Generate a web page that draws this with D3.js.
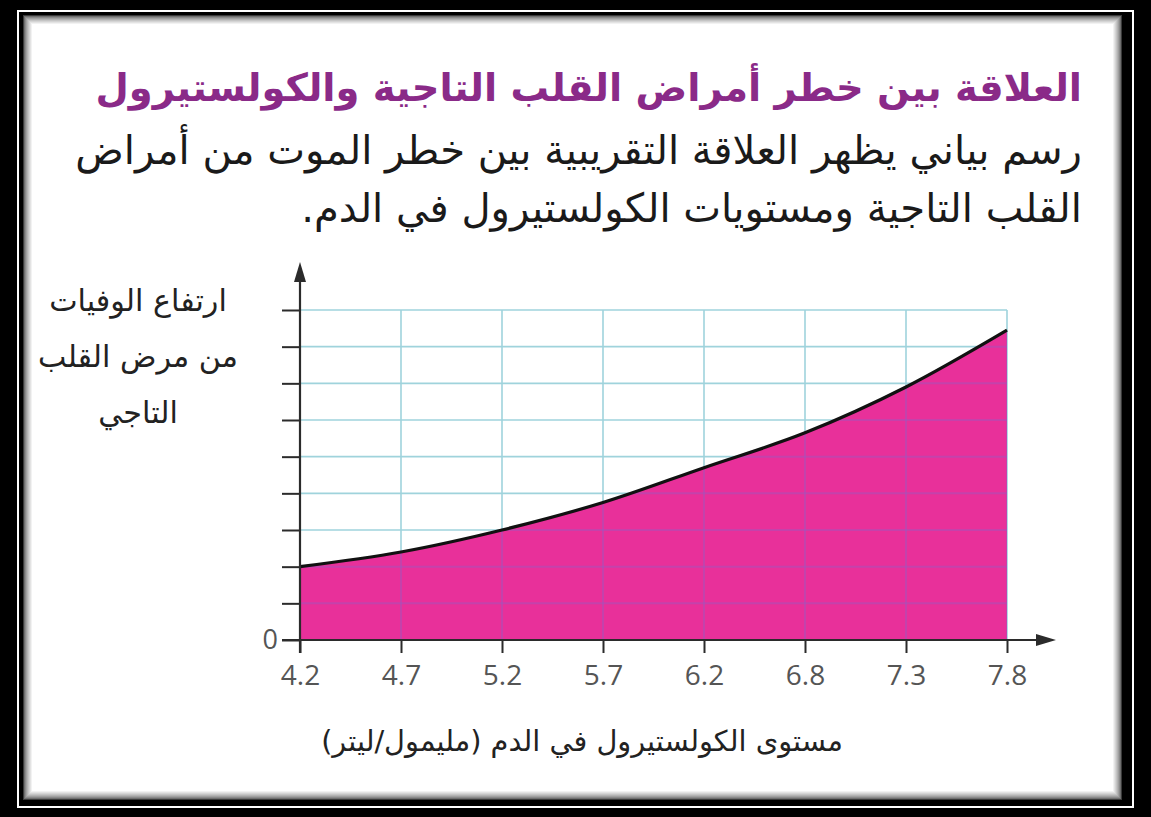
<!DOCTYPE html>
<html>
<head>
<meta charset="utf-8">
<script src="https://cdn.jsdelivr.net/npm/d3@7"></script>
<style>
  html, body { margin: 0; padding: 0; background: #000; }
  svg { display: block; }
</style>
</head>
<body>
<div id="main"></div>
<script>
// data
const cholesterol = ['4.2', '4.7', '5.2', '5.7', '6.2', '6.8', '7.3', '7.8'];
const deathRise = [2.0, 2.4, 3.0, 3.75, 4.7, 5.65, 6.9, 8.45];
const yTicks = [1, 2, 3, 4, 5, 6, 7, 8, 9];
const titleText = 'العلاقة بين خطر أمراض القلب التاجية والكولستيرول';
const subtitleLines = [
    'رسم بياني يظهر العلاقة التقريبية بين خطر الموت من أمراض',
    'القلب التاجية ومستويات الكولستيرول في الدم.'
];
const yLabelLines = ['ارتفاع الوفيات', 'من مرض القلب', 'التاجي'];
const xLabelText = 'مستوى الكولستيرول في الدم (مليمول/ليتر)';

const W = 1151, H = 817;
const arabicFont = '"DejaVu Sans", sans-serif';
const numFont = '"Open Sans", "Noto Sans", sans-serif';

const svg = d3.select('#main').append('svg')
    .attr('width', W)
    .attr('height', H);

// shrink/grow a group of text lines so that the widest one fills `width`
function fitWidth(sel, width) {
    let widest = 0;
    sel.each(function () { widest = Math.max(widest, this.getComputedTextLength()); });
    const size = parseFloat(sel.style('font-size'));
    sel.style('font-size', (size * width / widest).toFixed(2) + 'px');
}

// frame
svg.append('rect').attr('width', W).attr('height', H).attr('fill', '#000');
svg.append('rect').attr('x', 17).attr('y', 10).attr('width', 1117).attr('height', 798).attr('fill', '#fff');
svg.append('rect').attr('x', 19).attr('y', 12).attr('width', 1113).attr('height', 794).attr('fill', '#000');
svg.append('rect').attr('x', 23).attr('y', 15).attr('width', 1099).attr('height', 785).attr('fill', '#fff');
const shade = d3.interpolateRgb('#3a3a3a', '#ffffff');
for (let i = 0; i < 10; i++) {
    svg.append('rect')
        .attr('x', 23 + i + 0.5).attr('y', 15 + i + 0.5)
        .attr('width', 1099 - 2 * i - 1).attr('height', 785 - 2 * i - 1)
        .attr('fill', 'none')
        .attr('stroke', shade(Math.pow(i / 9, 0.6)))
        .attr('stroke-width', 1);
}

// texts (rtl: anchor "start" sits on the right edge)
const title = svg.append('text')
    .attr('x', 1082).attr('y', 101)
    .attr('text-anchor', 'start')
    .attr('direction', 'rtl')
    .style('font-family', arabicFont)
    .style('font-weight', 'bold')
    .style('font-size', '30px')
    .attr('fill', '#8a2a88')
    .text(titleText);
fitWidth(title, 987);

const subs = svg.selectAll('text.sub')
    .data(subtitleLines)
    .join('text')
    .attr('class', 'sub')
    .attr('x', 1082)
    .attr('y', (d, i) => 164 + i * 58)
    .attr('text-anchor', 'start')
    .attr('direction', 'rtl')
    .style('font-family', arabicFont)
    .style('font-size', '30px')
    .attr('fill', '#1a1a1a')
    .text(d => d);
fitWidth(subs, 1007);

const ylabs = svg.selectAll('text.ylab')
    .data(yLabelLines)
    .join('text')
    .attr('class', 'ylab')
    .attr('x', 138)
    .attr('y', (d, i) => 311 + i * 56)
    .attr('text-anchor', 'middle')
    .attr('direction', 'rtl')
    .style('font-family', arabicFont)
    .style('font-size', '26px')
    .attr('fill', '#222')
    .text(d => d);
fitWidth(ylabs, 200);

const xlab = svg.append('text')
    .attr('x', 582).attr('y', 751)
    .attr('text-anchor', 'middle')
    .attr('direction', 'rtl')
    .style('font-family', arabicFont)
    .style('font-size', '26px')
    .attr('fill', '#222')
    .text(xLabelText);
fitWidth(xlab, 522);

// scales
const x = d3.scalePoint().domain(cholesterol).range([300, 1007]);
const y = d3.scaleLinear().domain([0, 9]).range([640, 310]);

const data = cholesterol.map((c, i) => ({ c, v: deathRise[i] }));

const area = d3.area()
    .x(d => x(d.c))
    .y0(y(0))
    .y1(d => y(d.v))
    .curve(d3.curveMonotoneX);

const line = d3.line()
    .x(d => x(d.c))
    .y(d => y(d.v))
    .curve(d3.curveMonotoneX);

// grid under the fill
const grid = svg.append('g');
grid.selectAll('line.h')
    .data(yTicks)
    .join('line')
    .attr('class', 'h')
    .attr('x1', x.range()[0]).attr('x2', x.range()[1])
    .attr('y1', d => y(d)).attr('y2', d => y(d))
    .attr('stroke', '#9fd3dc')
    .attr('stroke-width', 1.6);
grid.selectAll('line.v')
    .data(cholesterol.slice(1))
    .join('line')
    .attr('class', 'v')
    .attr('x1', d => x(d)).attr('x2', d => x(d))
    .attr('y1', y(9)).attr('y2', y(0))
    .attr('stroke', '#9fd3dc')
    .attr('stroke-width', 1.6);

svg.append('path')
    .datum(data)
    .attr('d', area)
    .attr('fill', '#e8309a');

// grid seen through the fill
const clip = svg.append('clipPath').attr('id', 'fillClip');
clip.append('path').datum(data).attr('d', area);
const inner = svg.append('g').attr('clip-path', 'url(#fillClip)');
inner.selectAll('line.h')
    .data(yTicks)
    .join('line')
    .attr('x1', x.range()[0]).attr('x2', x.range()[1])
    .attr('y1', d => y(d)).attr('y2', d => y(d))
    .attr('stroke', '#9a58c0')
    .attr('stroke-opacity', 0.45)
    .attr('stroke-width', 2);
inner.selectAll('line.v')
    .data(cholesterol.slice(1))
    .join('line')
    .attr('x1', d => x(d)).attr('x2', d => x(d))
    .attr('y1', y(9)).attr('y2', y(0))
    .attr('stroke', '#9a58c0')
    .attr('stroke-opacity', 0.45)
    .attr('stroke-width', 2);

svg.append('path')
    .datum(data)
    .attr('d', line)
    .attr('fill', 'none')
    .attr('stroke', '#111')
    .attr('stroke-width', 3.2);

// axes
const axisColor = '#2b2b2b';
const yAxis = svg.append('g').attr('transform', `translate(${x.range()[0]},0)`)
    .call(d3.axisLeft(y).tickValues([0].concat(yTicks)).tickSize(18).tickFormat(d => d === 0 ? '0' : ''));
yAxis.select('.domain').remove();
yAxis.selectAll('.tick line').attr('stroke', axisColor).attr('stroke-width', 2);
yAxis.selectAll('.tick text')
    .attr('x', -22)
    .style('font-family', numFont)
    .style('font-size', '27px')
    .attr('fill', '#555');

const xAxis = svg.append('g').attr('transform', `translate(0,${y(0)})`)
    .call(d3.axisBottom(x).tickSize(13).tickPadding(12));
xAxis.select('.domain').remove();
xAxis.selectAll('.tick line').attr('stroke', axisColor).attr('stroke-width', 2);
xAxis.selectAll('.tick text')
    .style('font-family', numFont)
    .style('font-size', '28px')
    .attr('fill', '#555');

// axis lines with arrows
svg.append('line')
    .attr('x1', x.range()[0]).attr('x2', x.range()[0])
    .attr('y1', y(0) + 13).attr('y2', 276)
    .attr('stroke', axisColor).attr('stroke-width', 2.2);
svg.append('path')
    .attr('d', `M${x.range()[0]},262 L${x.range()[0] - 6},282 L${x.range()[0] + 6},282 Z`)
    .attr('fill', axisColor);
svg.append('line')
    .attr('x1', x.range()[0] - 18).attr('x2', 1042)
    .attr('y1', y(0)).attr('y2', y(0))
    .attr('stroke', axisColor).attr('stroke-width', 2.2);
svg.append('path')
    .attr('d', `M1056,${y(0)} L1036,${y(0) - 6} L1036,${y(0) + 6} Z`)
    .attr('fill', axisColor);
</script>
</body>
</html>
